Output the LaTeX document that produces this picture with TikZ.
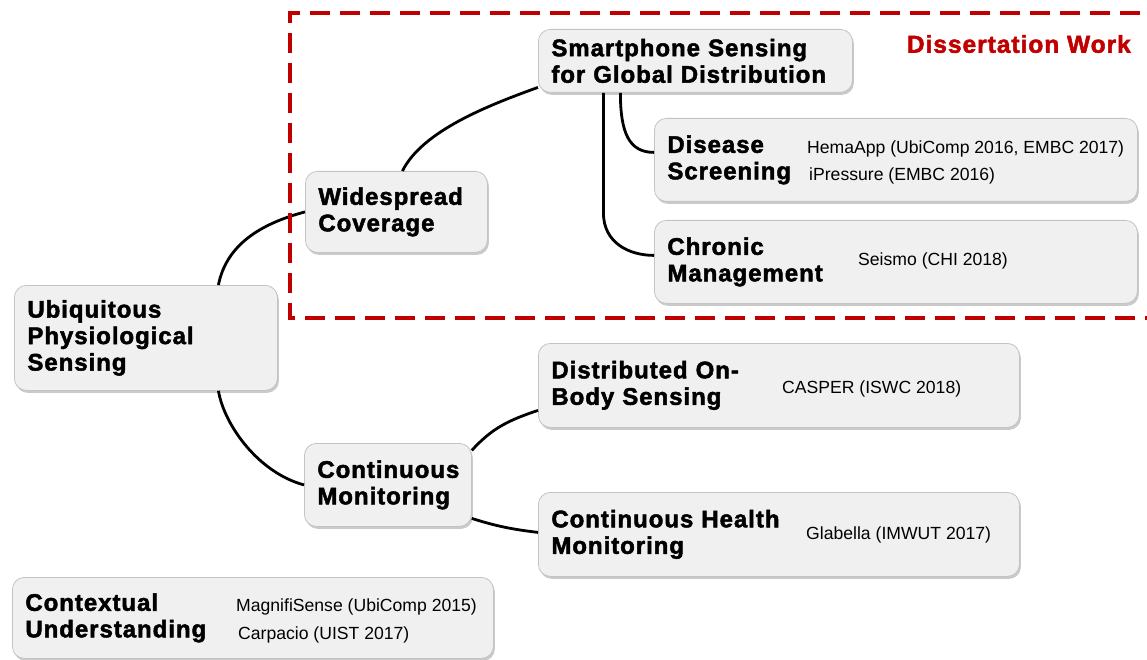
\documentclass[tikz,border=0pt]{standalone}
\usepackage{fontspec}
\setmainfont{Liberation Sans}
\newfontfamily\heavyfont{Liberation Sans Bold}[FakeBold=2, LetterSpace=4]
\usepackage{xcolor}
\usepackage{tikz}
\usetikzlibrary{positioning,calc,shadows}
\definecolor{cardfill}{HTML}{F0F0F0}
\definecolor{carddraw}{HTML}{C4C4C4}
\definecolor{dissred}{HTML}{C00000}

\begin{document}
\begin{tikzpicture}[x=1pt, y=-1pt,
  card/.style={draw=carddraw, line width=0.8pt, fill=cardfill,
    rounded corners=12pt, anchor=north west,
    inner xsep=13pt, inner ysep=0pt, align=left,
    font=\heavyfont\fontsize{24}{26.5}\selectfont,
    drop shadow={shadow xshift=1.5pt, shadow yshift=-2.5pt,
      opacity=0.35, fill=black!60}},
  cite/.style={anchor=west, inner sep=0pt, font=\fontsize{17.6}{20}\selectfont},
  link/.style={line width=2.8pt, black}]
  \useasboundingbox (0,0) rectangle (1147,660);
  % Root
  \node[card, text width=237pt, minimum height=105pt] (ups) at (14,285)
    {Ubiquitous\\Physiological\\Sensing};
  % Upper branch
  \node[card, text width=156pt, minimum height=81pt] (wc) at (305,171)
    {Widespread\\Coverage};
  \node[card, text width=288pt, minimum height=63pt] (sgd) at (538,29)
    {Smartphone Sensing\\for Global Distribution};
  \node[card, text width=457pt, minimum height=83pt] (ds) at (654,118)
    {Disease\\Screening};
  \node[card, text width=457pt, minimum height=83pt] (cm) at (654,220)
    {Chronic\\Management};
  \node[cite] (hema)   at (807,149) {HemaApp (UbiComp 2016, EMBC 2017)};
  \node[cite] (ipress) at (809,176) {iPressure (EMBC 2016)};
  \node[cite] (seismo) at (858,261) {Seismo (CHI 2018)};
  % Lower branch
  \node[card, text width=141pt, minimum height=83pt] (cmo) at (304,443)
    {Continuous\\Monitoring};
  \node[card, text width=455pt, minimum height=84pt] (dob) at (538,343)
    {Distributed On-\\Body Sensing};
  \node[card, text width=455pt, minimum height=84pt] (chm) at (538,492)
    {Continuous Health\\Monitoring};
  \node[cite] (casper) at (782,389) {CASPER (ISWC 2018)};
  \node[cite] (glab)   at (806,535) {Glabella (IMWUT 2017)};
  % Stand-alone
  \node[card, text width=455pt, minimum height=81pt] (cu) at (12,577)
    {Contextual\\Understanding};
  \node[cite] (magni) at (236,607) {MagnifiSense (UbiComp 2015)};
  \node[cite] (carp)  at (238,635) {Carpacio (UIST 2017)};
  % Links
  \draw[link] ([xshift=72.5pt]ups.north) .. controls +(8,-40) and +(-45,12) .. (wc.west);
  \draw[link] ([xshift=72.5pt]ups.south) .. controls +(6,35) and +(-45,-12) .. (cmo.west);
  \draw[link] ([xshift=6pt]wc.north) .. controls +(20,-40) and +(-50,18) .. ([yshift=-26.5pt]sgd.west);
  \draw[link] ([xshift=-75pt]sgd.south) .. controls +(0,40) and +(-25,0) .. ([yshift=7.5pt]ds.west);
  \draw[link] ([xshift=-92pt]sgd.south) -- ++(0,120)
    .. controls +(0,30) and +(-25,0) .. ([yshift=6.5pt]cm.west);
  \draw[link] ([yshift=34.5pt]cmo.east) .. controls +(20,-22) and +(-30,10) .. ([yshift=-25pt]dob.west);
  \draw[link] ([yshift=-33.5pt]cmo.east) .. controls +(25,8) and +(-25,-3) .. ([yshift=2pt]chm.west);
  % Dissertation frame
  \draw[dissred, line width=4.5pt, dash pattern=on 20pt off 10pt]
    (1170,13) -- (290,13) -- (290,318) -- (1170,318);
  \node[anchor=east, text=dissred, inner sep=0pt,
    font=\heavyfont\fontsize{24.5}{26}\selectfont] (dw) at (1131,44)
    {Dissertation Work};
\end{tikzpicture}
\end{document}
